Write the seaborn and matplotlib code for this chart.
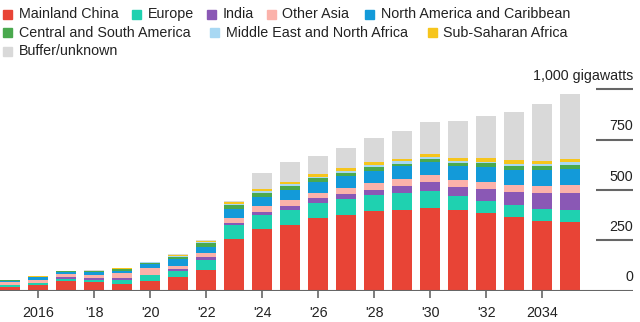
import numpy as np
import pandas as pd
import matplotlib
matplotlib.use("Agg")
import matplotlib.pyplot as plt
import seaborn as sns
from matplotlib.patches import Rectangle

years = list(range(2015, 2036))
china = [16, 28, 50, 41, 31, 50, 66, 105, 258, 304, 327, 359, 375, 395, 403, 412, 402, 385, 367, 345, 341]
europe = [11, 8, 10, 12, 24, 26, 33, 45, 66, 71, 73, 74, 78, 78, 81, 82, 66, 61, 59, 60, 59]
india = [2, 2, 9, 9, 8, 4, 11, 17, 13, 18, 23, 27, 28, 29, 37, 45, 49, 60, 62, 79, 84]
other_asia = [13, 15, 14, 17, 25, 34, 14, 21, 25, 27, 27, 26, 30, 32, 33, 33, 35, 36, 38, 38, 43]
north_america = [8, 14, 10, 14, 12, 20, 33, 28, 43, 45, 51, 54, 58, 61, 63, 66, 65, 73, 74, 78, 76]
central_south_america = [1, 2, 3, 3, 7, 5, 11, 20, 21, 21, 21, 18, 14, 18, 14, 17, 16, 18, 18, 18, 20]
middle_east = [1, 1, 1, 2, 2, 2, 4, 4, 6, 8, 9, 8, 11, 12, 12, 9, 12, 8, 13, 13, 15]
sub_saharan = [1, 1, 1, 2, 2, 1, 3, 6, 6, 9, 11, 11, 13, 15, 13, 17, 16, 17, 17, 15, 17]
buffer_unknown = [2, 2, 1, 4, 3, 2, 5, 5, 7, 82, 98, 93, 104, 120, 139, 159, 184, 211, 240, 281, 320]

series_names = ["Mainland China", "Europe", "India", "Other Asia", "North America and Caribbean",
                "Central and South America", "Middle East and North Africa", "Sub-Saharan Africa",
                "Buffer/unknown"]
series_values = [china, europe, india, other_asia, north_america, central_south_america,
                 middle_east, sub_saharan, buffer_unknown]
colors = ["#e84436", "#1fd1b0", "#8a58b5", "#fbb2aa", "#139ad9", "#4aa94e", "#a8d8f3", "#f6c51c", "#d9d9d9"]

tick_years = [2016, 2018, 2020, 2022, 2024, 2026, 2028, 2030, 2032, 2034]
tick_labels = ["2016", "'18", "'20", "'22", "'24", "'26", "'28", "'30", "'32", "2034"]
y_ticks = [0, 250, 500, 750, 1000]
y_labels = ["0", "250", "500", "750", "1,000 gigawatts"]

sns.set_theme(style="white")
plt.rcParams["font.family"] = ["Liberation Sans", "DejaVu Sans"]

W, H = 640, 322
fig = plt.figure(figsize=(W / 100, H / 100), dpi=100)
base_px, top_px = 290.7, 89.3
ax = fig.add_axes([0, (H - base_px) / H, 633 / W, (base_px - top_px) / H])

cum = np.zeros(len(years))
cums = []
for vals in series_values:
    cum = cum + np.array(vals)
    cums.append(cum.copy())

for name, c, cv in reversed(list(zip(series_names, colors, cums))):
    d = pd.DataFrame({"year": years, "value": cv})
    sns.barplot(data=d, x="year", y="value", native_scale=True, color=c, saturation=1,
                width=0.72, errorbar=None, ax=ax, linewidth=0)

x0 = 2016 - 38.3 / 28
x1 = 2016 + (633 - 38.3) / 28
ax.set_xlim(x0, x1)
ax.set_ylim(0, 1000)
for s in ax.spines.values():
    s.set_visible(False)
ax.axhline(0, color="#666666", lw=1.5, zorder=5)
ax.hlines(y_ticks[1:], 2016 + (596 - 38.3) / 28, x1, color="#666666", lw=1.5, clip_on=False)
FS = 10.3
for v, lab in zip(y_ticks, y_labels):
    ax.annotate(lab, xy=(x1, v), xytext=(0, 9.6), textcoords="offset points",
                ha="right", va="center", fontsize=FS, color="#222222", annotation_clip=False)

ax.set_xticks(tick_years)
ax.set_xticklabels(tick_labels)
ax.set_yticks([])
ax.set_xlabel("")
ax.set_ylabel("")
ax.tick_params(axis="x", length=5, width=1.2, color="#666666", pad=6, labelsize=FS,
               labelcolor="#222222", bottom=True, direction="out")

# legend (text left edges in pixels)
rows = [
    [(0, 19), (1, 148), (2, 222.5), (3, 282.5), (4, 381)],
    [(5, 19), (6, 225.7), (7, 443.3)],
    [(8, 19)],
]
row_y = [14.3, 32.7, 51]
sq = 9
for r, yy in zip(rows, row_y):
    for idx, tx in r:
        sx = tx - 15.7
        fig.patches.append(Rectangle((sx / W, 1 - (yy + sq / 2) / H), sq / W, sq / H,
                                     transform=fig.transFigure, color=colors[idx], figure=fig))
        fig.text(tx / W, 1 - yy / H, series_names[idx], ha="left", va="center",
                 fontsize=FS, color="#222222")

fig.savefig("out.png", dpi=100)
